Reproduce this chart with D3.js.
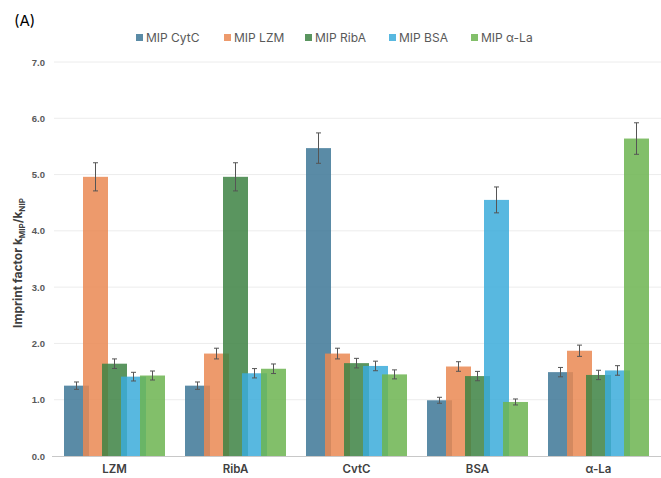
<!DOCTYPE html>
<html>
<head>
<meta charset="utf-8">
<script src="https://cdn.jsdelivr.net/npm/d3@7"></script>
<style>
  body { margin: 0; background: #fff; }
  svg { display: block; }
</style>
</head>
<body>
<svg id="chart" width="661" height="478"></svg>
<script>
const categories = ["LZM", "RibA", "CvtC", "BSA", "α-La"];
const seriesNames = ["MIP CytC", "MIP LZM", "MIP RibA", "MIP BSA", "MIP α-La"];
const seriesColors = ["#3d7797", "#ea8852", "#3d8343", "#3bacdb", "#6cb450"];

// values per series, one entry per category
const cytcValues = [1.25, 1.25, 5.47, 0.99, 1.49];
const lzmValues  = [4.96, 1.82, 1.82, 1.59, 1.87];
const ribaValues = [1.64, 4.96, 1.65, 1.42, 1.44];
const bsaValues  = [1.41, 1.47, 1.60, 4.55, 1.52];
const alaValues  = [1.43, 1.55, 1.45, 0.96, 5.64];

// error bar half-lengths
const cytcErr = [0.065, 0.065, 0.27, 0.053, 0.083];
const lzmErr  = [0.25, 0.095, 0.095, 0.085, 0.10];
const ribaErr = [0.085, 0.25, 0.085, 0.083, 0.083];
const bsaErr  = [0.077, 0.083, 0.085, 0.23, 0.085];
const alaErr  = [0.08, 0.085, 0.08, 0.053, 0.28];

const yTicks = [0, 1, 2, 3, 4, 5, 6, 7];

const allValues = [cytcValues, lzmValues, ribaValues, bsaValues, alaValues];
const allErrs = [cytcErr, lzmErr, ribaErr, bsaErr, alaErr];

const svg = d3.select("#chart");
const plotLeft = 54, plotRight = 659, plotTop = 62, plotBottom = 456;

const x = d3.scaleBand()
    .domain(categories)
    .range([plotLeft, plotRight])
    .paddingInner(0)
    .paddingOuter(0);

const y = d3.scaleLinear()
    .domain([0, 7])
    .range([plotBottom, plotTop]);

// bars in a group overlap: step smaller than width
const groupWidth = 101;
const barW = 25;
const barStep = (groupWidth - barW) / (seriesNames.length - 1);

// gridlines
svg.append("g")
    .selectAll("line")
    .data(yTicks.filter(d => d > 0))
    .enter().append("line")
    .attr("x1", plotLeft)
    .attr("x2", 661)
    .attr("y1", d => y(d))
    .attr("y2", d => y(d))
    .attr("stroke", "#ececec")
    .attr("stroke-width", 1);

// y tick labels
svg.append("g")
    .selectAll("text")
    .data(yTicks)
    .enter().append("text")
    .attr("x", 45)
    .attr("y", d => y(d) + 3.5)
    .attr("text-anchor", "end")
    .attr("font-family", "Liberation Sans, Arial, sans-serif")
    .attr("font-weight", "bold")
    .attr("font-size", 9.5)
    .attr("fill", "#595959")
    .text(d => d.toFixed(1));

// bars
const barsG = svg.append("g");
seriesNames.forEach((name, si) => {
    const data = categories.map((c, ci) => ({
        cat: c, value: allValues[si][ci], err: allErrs[si][ci]
    }));
    const xOff = d => x(d.cat) + (x.bandwidth() - groupWidth) / 2 + si * barStep;

    barsG.append("g")
        .selectAll("rect")
        .data(data)
        .enter().append("rect")
        .attr("x", xOff)
        .attr("y", d => y(d.value))
        .attr("width", barW)
        .attr("height", d => y(0) - y(d.value))
        .attr("fill", seriesColors[si])
        .attr("fill-opacity", 0.85);

    const eb = barsG.append("g")
        .attr("stroke", "#555")
        .attr("stroke-width", 1);
    data.forEach(d => {
        const cx = xOff(d) + barW / 2;
        const y1 = y(d.value + d.err), y2 = y(d.value - d.err);
        eb.append("line").attr("x1", cx).attr("x2", cx).attr("y1", y1).attr("y2", y2);
        eb.append("line").attr("x1", cx - 2.5).attr("x2", cx + 2.5).attr("y1", y1).attr("y2", y1);
        eb.append("line").attr("x1", cx - 2.5).attr("x2", cx + 2.5).attr("y1", y2).attr("y2", y2);
    });
});

// baseline
svg.append("line")
    .attr("x1", plotLeft - 2)
    .attr("x2", 661)
    .attr("y1", y(0) + 0.5)
    .attr("y2", y(0) + 0.5)
    .attr("stroke", "#c8c8c8")
    .attr("stroke-width", 1.2);

// category labels
svg.append("g")
    .selectAll("text")
    .data(categories)
    .enter().append("text")
    .attr("x", d => x(d) + x.bandwidth() / 2)
    .attr("y", 473)
    .attr("text-anchor", "middle")
    .attr("font-family", "Inter, Open Sans, sans-serif")
    .attr("font-weight", 600)
    .attr("font-size", 11.5)
    .attr("fill", "#404040")
    .text(d => d);

// y axis title
const yTitle = svg.append("text")
    .attr("transform", `translate(22, ${(plotTop + plotBottom) / 2 + 4}) rotate(-90)`)
    .attr("text-anchor", "middle")
    .attr("font-family", "Inter, Open Sans, sans-serif")
    .attr("font-weight", "bold")
    .attr("font-size", 12)
    .attr("fill", "#404040");
yTitle.append("tspan").text("Imprint factor k");
yTitle.append("tspan").attr("font-size", 8).attr("dy", 3).text("MIP");
yTitle.append("tspan").attr("dy", -3).text("/k");
yTitle.append("tspan").attr("font-size", 8).attr("dy", 3).text("NIP");

// panel label
svg.append("text")
    .attr("x", 14)
    .attr("y", 26)
    .attr("font-family", "Inter, Open Sans, sans-serif")
    .attr("font-size", 15)
    .attr("fill", "#000")
    .text("(A)");

// legend
const legendX = [136, 224, 305, 389, 471];
const legend = svg.append("g");
seriesNames.forEach((name, i) => {
    legend.append("rect")
        .attr("x", legendX[i])
        .attr("y", 34)
        .attr("width", 7)
        .attr("height", 7)
        .attr("fill", seriesColors[i])
        .attr("fill-opacity", 0.85);
    legend.append("text")
        .attr("x", legendX[i] + 10)
        .attr("y", 42)
        .attr("font-family", "Inter, Open Sans, sans-serif")
        .attr("font-size", 12)
        .attr("fill", "#595959")
        .text(name);
});
</script>
</body>
</html>
